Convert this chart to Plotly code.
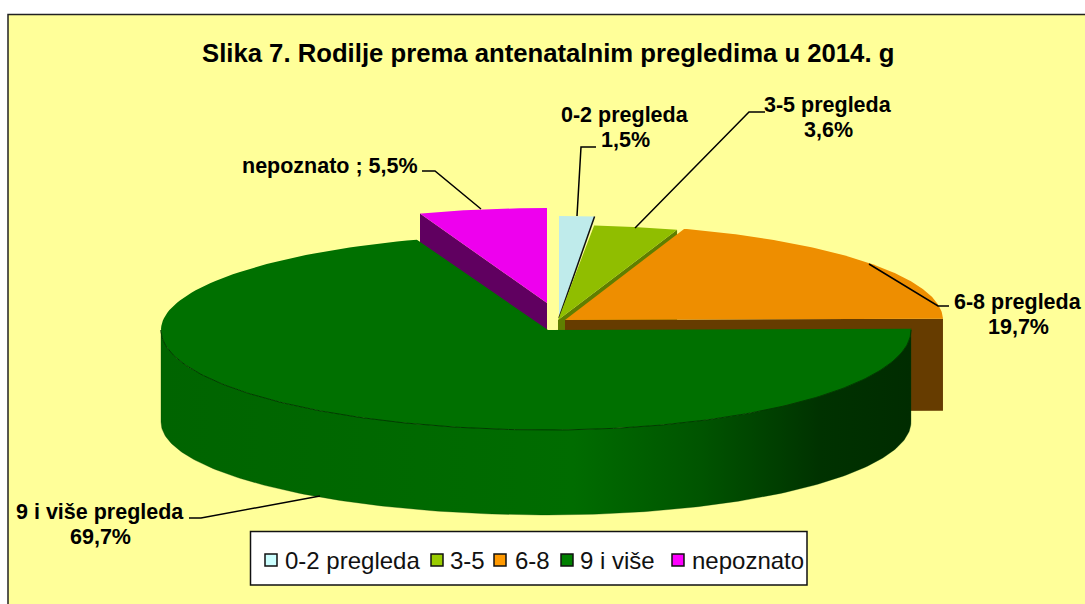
import numpy as np
import plotly.graph_objects as go

# ---- data ----
categories = ["0-2 pregleda", "3-5 pregleda", "6-8 pregleda", "9 i više pregleda", "nepoznato"]
values = [1.5, 3.6, 19.7, 69.7, 5.5]
legend_names = ["0-2 pregleda", "3-5", "6-8", "9 i više", "nepoznato"]
title_text = "Slika 7. Rodilje prema antenatalnim pregledima u 2014. g"

# ---- styles ----
top_colors = ["#BFEBEB", "#90BE00", "#EE8E00", "#007000", "#EE00EE"]
legend_colors = ["#CCFFFF", "#99CC00", "#FF9900", "#008000", "#FF00FF"]
wall_colors = ["#6F8F8F", "#5F7F00", "#663C00", "#006800", "#600060"]
FONT = "Liberation Sans, Arial, sans-serif"

# slice geometry in screen pixels: cx, cy, rx right, rx left, ry back, ry front
geom = [
    (559, 316, 378, 378, 100, 100),
    (558, 320, 378, 378, 95, 95),
    (565, 320, 378, 378, 96, 96),
    (548, 330, 363, 387, 96, 100),
    (547, 303, 375, 375, 95, 95),
]
DEPTH = 92

# slice angles come from the values, clockwise from 12 o'clock
edges = np.concatenate([[0], np.cumsum(values)]) / sum(values) * 2 * np.pi


def arc(i, t0, t1, n=160, dy=0.0, ry_scale=1.0):
    cx, cy, rxr, rxl, ryb, ryf = geom[i]
    t = np.linspace(t0, t1, n)
    s, c = np.sin(t), np.cos(t)
    x = cx + np.where(s >= 0, rxr, rxl) * s
    y = cy + dy - np.where(c >= 0, ryb, ryf * ry_scale) * c
    return x, y


fig = go.Figure()


def poly(x, y, color, line=None, width=0):
    fig.add_trace(go.Scatter(
        x=list(x), y=list(y), mode="lines", fill="toself", fillcolor=color,
        line=dict(color=line or color, width=width), hoverinfo="skip", showlegend=False))


def top_face(i):
    cx, cy = geom[i][:2]
    x, y = arc(i, edges[i], edges[i + 1])
    poly(np.r_[cx, x, cx], np.r_[cy, y, cy], top_colors[i])


def cut_wall(i, t):
    cx, cy = geom[i][:2]
    x, y = arc(i, t, t, n=1)
    poly([cx, x[0], x[0], cx, cx], [cy, y[0], y[0] + DEPTH, cy + DEPTH, cy], wall_colors[i])


# blue slice
top_face(0)
x0, y0 = arc(0, edges[1], edges[1], n=1)
fig.add_trace(go.Scatter(x=[geom[0][0], x0[0]], y=[geom[0][1] + 2, y0[0]], mode="lines",
                         line=dict(color="#101010", width=1.5), hoverinfo="skip", showlegend=False))
# green slice
cut_wall(1, edges[2])
top_face(1)
# orange slice
cut_wall(2, edges[3])
top_face(2)
# magenta slice
cut_wall(4, edges[4])
top_face(4)

# 9 i više: outer wall with a horizontal shading, then top face
xt, yt = arc(3, edges[3], 1.5 * np.pi, n=200)
xb, yb = arc(3, edges[3], 1.5 * np.pi, n=200, dy=DEPTH, ry_scale=0.93)
fig.add_trace(go.Scatter(
    x=list(np.r_[xt, xb[::-1], xt[0]]), y=list(np.r_[yt, yb[::-1], yt[0]]),
    mode="lines", fill="toself", line=dict(color="rgba(0,60,0,0.6)", width=0.5),
    fillgradient=dict(type="horizontal", colorscale=[
        [0.0, "#006400"], [0.55, "#006C00"], [0.72, "#005400"], [0.88, "#003200"], [1.0, "#002C00"]]),
    hoverinfo="skip", showlegend=False))
top_face(3)
xa, ya = arc(3, np.pi / 2, 1.5 * np.pi, n=200)
fig.add_trace(go.Scatter(x=xa, y=ya, mode="lines", line=dict(color="#003C00", width=1),
                         hoverinfo="skip", showlegend=False))

# ---- legend ----
swatch_x = [271, 437, 500, 567, 678]
legend_text_x = [283, 448, 513, 578, 690]
LEG_Y = 560
fig.add_trace(go.Scatter(
    x=swatch_x, y=[LEG_Y] * 5, mode="markers",
    marker=dict(symbol="square", size=12, color=legend_colors, line=dict(color="#111", width=1.5)),
    hoverinfo="skip", showlegend=False))

annotations = [dict(x=548, y=53, text=f"<b>{title_text}</b>", showarrow=False,
                    font=dict(family=FONT, size=25.7, color="#000"), xanchor="center", yanchor="middle")]
for name, lx in zip(legend_names, legend_text_x):
    annotations.append(dict(x=lx, y=LEG_Y, text=name, showarrow=False, xanchor="left", yanchor="middle",
                            font=dict(family=FONT, size=24, color="#111")))


def pct(v):
    return f"{v:.1f}".replace(".", ",") + "%"


def label(x, y, txt):
    annotations.append(dict(x=x, y=y, text=f"<b>{txt}</b>", showarrow=False,
                            xanchor="center", yanchor="middle", align="center",
                            font=dict(family=FONT, size=21.5, color="#000")))


label_pos = [(625, 115), (828, 105), (1018, 302), (100, 512), (330, 166)]
for i, (name, v) in enumerate(zip(categories, values)):
    if name == "nepoznato":
        label(label_pos[i][0], label_pos[i][1], f"{name} ; {pct(v)}")
    else:
        label(label_pos[i][0], label_pos[i][1], name)
        label(label_pos[i][0], label_pos[i][1] + 25, pct(v))

shapes = [
    dict(type="rect", x0=8, y0=14.5, x1=1100, y1=620, layer="below",
         fillcolor="#FFFF99", line=dict(color="#222", width=1.5)),
    dict(type="rect", x0=250.5, y0=531.5, x1=807, y1=585, layer="below",
         fillcolor="#FFFFFF", line=dict(color="#111", width=1.5)),
]


def leader(pts):
    path = "M " + " L ".join(f"{a},{b}" for a, b in pts)
    shapes.append(dict(type="path", path=path, line=dict(color="#000", width=1.5), layer="above"))


leader([(422, 171), (435, 171), (481, 209)])
leader([(596, 147), (581, 147), (577, 216)])
leader([(765, 112), (749, 112), (635, 228)])
leader([(869, 264), (938, 306), (949, 306)])
leader([(189, 518), (201, 518), (320, 496)])

fig.update_layout(
    width=1085, height=604, margin=dict(l=0, r=0, t=0, b=0),
    paper_bgcolor="#FFFFFF", plot_bgcolor="rgba(0,0,0,0)",
    xaxis=dict(range=[0, 1085], visible=False, fixedrange=True),
    yaxis=dict(range=[604, 0], visible=False, fixedrange=True),
    shapes=shapes, annotations=annotations, showlegend=False)

fig.write_html("out.html", config={"displayModeBar": False},
               post_script="document.body.style.margin='0';document.documentElement.style.overflow='hidden';")
